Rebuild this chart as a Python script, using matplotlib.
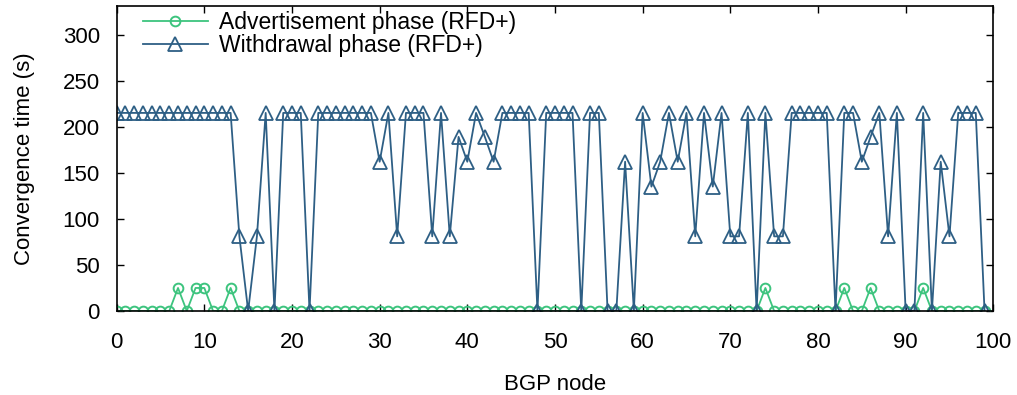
import matplotlib
matplotlib.use('Agg')
import matplotlib.pyplot as plt
import numpy as np

# convergence time per BGP node (s)
nodes = list(range(100))

adv_peaks = [7, 9, 10, 13, 74, 83, 86, 92]
advertisement = [25 if n in adv_peaks else 0 for n in nodes]

withdrawal = [
    215, 215, 215, 215, 215, 215, 215, 215, 215, 215,   # 0-9
    215, 215, 215, 215, 81, 0, 81, 215, 0, 215,         # 10-19
    215, 215, 0, 215, 215, 215, 215, 215, 215, 215,     # 20-29
    162, 215, 81, 215, 215, 215, 81, 215, 81, 189,      # 30-39
    162, 215, 189, 162, 215, 215, 215, 215, 0, 215,     # 40-49
    215, 215, 215, 0, 215, 215, 0, 0, 162, 0,           # 50-59
    215, 135, 162, 215, 162, 215, 81, 215, 135, 215,    # 60-69
    81, 81, 215, 0, 215, 81, 81, 215, 215, 215,         # 70-79
    215, 215, 0, 215, 215, 162, 189, 215, 81, 215,      # 80-89
    0, 0, 215, 0, 162, 81, 215, 215, 215, 0,            # 90-99
]

xticks = list(range(0, 101, 10))
yticks = list(range(0, 301, 50))

plt.rcParams['font.family'] = ['Liberation Sans', 'DejaVu Sans']

fig = plt.figure(figsize=(10.17, 3.95), dpi=100, facecolor='w')
ax = fig.add_axes([0.1147, 0.2127, 0.862, 0.772])

ax.plot(nodes, advertisement, color='#3dc47e', lw=1.3, marker='o', ms=7,
        mfc='none', mec='#3dc47e', mew=1.4, label='Advertisement phase (RFD+)')
ax.plot(nodes, withdrawal, color='#2e5f85', lw=1.3, marker='^', ms=10.5,
        mfc='none', mec='#2e5f85', mew=1.3, label='Withdrawal phase (RFD+)')

ax.set_xlim(0, 100)
ax.set_ylim(0, 331)
ax.set_xticks(xticks)
ax.set_yticks(yticks)
ax.tick_params(axis='x', pad=15)
ax.tick_params(axis='y', pad=12)
ax.tick_params(direction='in', length=5, width=1, top=True, right=True,
               labelsize=16)
for s in ax.spines.values():
    s.set_linewidth(1.2)

ax.set_xlabel('BGP node', fontsize=16, labelpad=15)
ax.set_ylabel('Convergence time (s)', fontsize=16, labelpad=20)

ax.legend(loc='upper left', frameon=False, fontsize=16.5, handlelength=2.8,
          handletextpad=0.5, borderaxespad=0.0, labelspacing=0.0,
          bbox_to_anchor=(0.02, 1.015))

plt.savefig('out.png', dpi=100)
plt.close()
